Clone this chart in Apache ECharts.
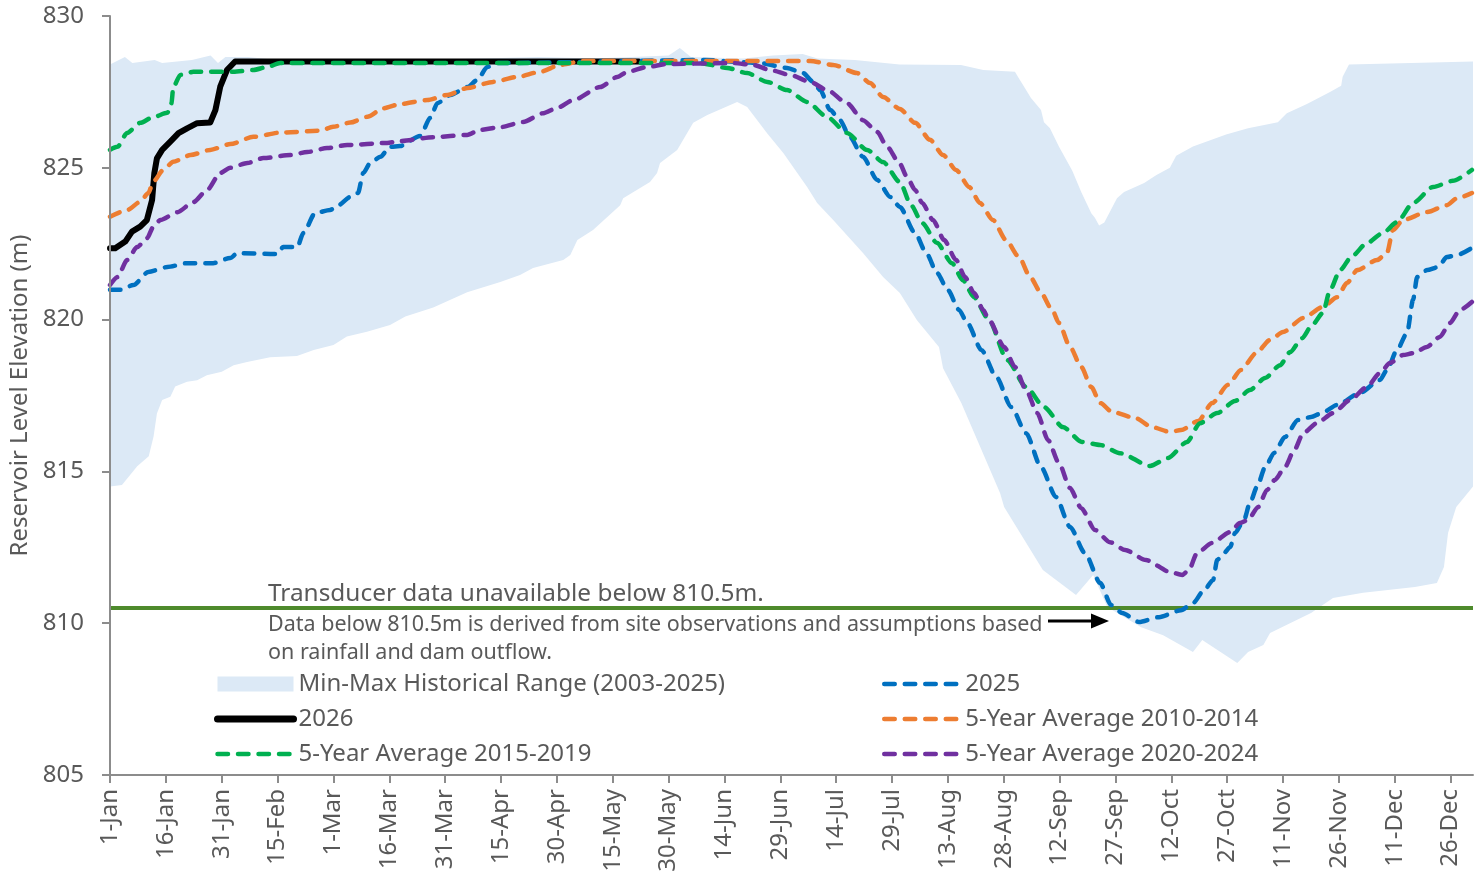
<!DOCTYPE html>
<html>
<head>
<meta charset="utf-8">
<title>Reservoir Level Elevation</title>
<script src="https://cdn.jsdelivr.net/npm/echarts@6/dist/echarts.min.js"></script>
<style>
  html, body { margin: 0; padding: 0; background: #fff; }
  #main { width: 1481px; height: 875px; }
</style>
</head>
<body>
<div id="main"></div>
<script>
// day of year (0 = 1-Jan) , level (m)
var tickDays = [0, 15, 30, 45, 60, 75, 90, 105, 120, 135, 150, 165, 180, 195, 210, 225, 240, 255, 270, 285, 300, 315, 330, 345, 360];
var tickLabels = ['1-Jan', '16-Jan', '31-Jan', '15-Feb', '1-Mar', '16-Mar', '31-Mar', '15-Apr', '30-Apr', '15-May', '30-May', '14-Jun', '29-Jun',
  '14-Jul', '29-Jul', '13-Aug', '28-Aug', '12-Sep', '27-Sep', '12-Oct', '27-Oct', '11-Nov', '26-Nov', '11-Dec', '26-Dec'];

var transducerLimit = 810.5;

var bandMax = [[0, 828.4], [4, 828.65], [6, 828.45], [12, 828.55], [14, 828.45], [22, 828.55], [27, 828.7], [29, 828.45], [31, 828.65],
  [37, 828.65], [45, 828.55], [60, 828.5], [80, 828.55], [100, 828.6], [115, 828.65], [130, 828.6], [140, 828.65], [150, 828.7],
  [153, 828.95], [156, 828.65], [170, 828.6], [178, 828.7], [186, 828.75], [190, 828.6], [200, 828.55], [212, 828.4], [228.5, 828.39],
  [234.5, 828.22], [243, 828.16], [244, 827.96], [245.5, 827.66], [247.3, 827.3], [250, 826.9], [250.8, 826.5], [252.4, 826.3],
  [254.8, 825.7], [258.4, 824.9], [260.8, 824.2], [263.5, 823.5], [264.5, 823.35], [265.6, 823.1], [267, 823.2], [270.4, 824.0],
  [272.3, 824.2], [277.7, 824.5], [281, 824.76], [284.6, 825.0], [286.3, 825.4], [290.8, 825.7], [299.7, 826.1], [305.6, 826.3],
  [313.6, 826.5], [316, 826.8], [321.4, 827.1], [327.6, 827.5], [330.6, 827.7], [331, 828.0], [332.7, 828.4], [366, 828.5]];

var bandMin = [[0, 814.5], [3.2, 814.55], [5.5, 814.9], [7.3, 815.17], [10.4, 815.5], [11.7, 816.15], [12.6, 816.91], [14, 817.35],
  [16.2, 817.46], [17.5, 817.8], [20.7, 817.95], [23.4, 818.0], [26, 818.17], [30, 818.28], [33.2, 818.5], [36.8, 818.6], [43, 818.76],
  [50.2, 818.8], [54.7, 819.0], [60, 819.16], [63.6, 819.44], [69, 819.6], [75.2, 819.82], [79.3, 820.1], [86.8, 820.4], [95.9, 820.9],
  [104.8, 821.24], [110.1, 821.47], [113.6, 821.7], [121.7, 821.96], [123.6, 822.13], [125.5, 822.62], [129.7, 822.95], [137, 823.77],
  [137.8, 824.0], [145, 824.53], [146.9, 824.83], [147.7, 825.16], [152.3, 825.59], [156.6, 826.48], [160.4, 826.74], [168.4, 827.17],
  [171.1, 827.0], [176.4, 826.15], [180.8, 825.49], [187.2, 824.37], [189.9, 823.84], [194.2, 823.28], [202.2, 822.19], [207.6, 821.4],
  [212.1, 820.88], [216.7, 819.98], [222.6, 819.1], [223.7, 818.4], [228.6, 817.25], [239, 814.29], [240.1, 813.83], [250.5, 811.75],
  [259.4, 810.93], [264, 811.59], [267.8, 810.53], [276.9, 809.87], [282.8, 809.6], [290.8, 809.05], [293.3, 809.45], [302.7, 808.69],
  [305.6, 809.05], [309.7, 809.28], [311.5, 809.68], [322.5, 810.34], [328.4, 810.83], [336.5, 811.0], [350.4, 811.19], [356.3, 811.32],
  [358.2, 811.85], [359.3, 812.97], [361.5, 813.83], [366, 814.5]];

var level2026 = [[0, 822.35], [1.4, 822.35], [4.1, 822.57], [5.9, 822.9], [8.1, 823.06], [9.9, 823.28], [11.3, 823.94], [11.9, 824.82],
  [12.6, 825.31], [14, 825.59], [16.2, 825.86], [18.4, 826.14], [20.7, 826.3], [23.4, 826.47], [26.9, 826.49], [28.3, 826.9],
  [29.6, 827.67], [31.4, 828.22], [33.6, 828.5], [142, 828.5]];

var level2025 = [[0, 820.98], [2.8, 820.98], [6.3, 821.14], [10.3, 821.57], [15.4, 821.73], [20.7, 821.86], [27.7, 821.86], [32.3, 822.03],
  [34.2, 822.19], [44.9, 822.16], [46.5, 822.39], [50.3, 822.39], [51.9, 822.85], [55.1, 823.51], [59.1, 823.61], [61.3, 823.77],
  [64.5, 824.04], [66.6, 824.17], [68, 824.83], [69.9, 825.16], [72.6, 825.36], [75.2, 825.69], [77.9, 825.72], [83.3, 826.05],
  [86, 826.64], [87.9, 827.13], [91.4, 827.4], [96, 827.66], [98.6, 827.89], [101.3, 828.32], [104, 828.45], [160, 828.55],
  [169.2, 828.48], [174.6, 828.45], [181.8, 828.29], [186.1, 828.12], [188.8, 827.83], [190.7, 827.56], [193.4, 826.9], [196, 826.57],
  [198.7, 826.01], [202.2, 825.36], [206, 824.6], [209.5, 824.04], [212.1, 823.71], [216.2, 822.85], [219.2, 822.19], [222.1, 821.53],
  [225, 820.97], [228, 820.32], [230.2, 819.89], [234, 819.0], [238, 818.11], [242, 817.12], [246, 816.26], [250, 815.14], [254, 814.16],
  [257.8, 813.17], [261.8, 812.31], [265.9, 811.32], [268.8, 810.6], [271.8, 810.34], [276.3, 810.04], [281.7, 810.2], [287.6, 810.43],
  [290.8, 810.66], [293.8, 811.09], [296.2, 811.42], [297.3, 812.08], [299.1, 812.31], [300.8, 812.51], [302.1, 812.97], [304.5, 813.4],
  [306.1, 813.96], [308, 814.49], [310.2, 815.14], [312.6, 815.61], [315.5, 816.13], [319, 816.69], [322.5, 816.79], [325.4, 816.92],
  [329.5, 817.19], [335.6, 817.58], [341, 818.01], [342.9, 818.34], [345.6, 819.0], [348.3, 819.56], [349.9, 820.65], [351, 821.4],
  [353.7, 821.63], [356.6, 821.73], [359, 822.06], [361.7, 822.13], [365.7, 822.36]];

var avg2010_2014 = [[0, 823.39], [4.7, 823.61], [8.1, 823.88], [10.3, 824.17], [11.6, 824.54], [14.3, 824.93], [17, 825.2], [21.6, 825.42],
  [26.9, 825.59], [32.3, 825.78], [38.5, 826.02], [45.7, 826.16], [56.5, 826.22], [59.9, 826.35], [64.5, 826.49], [69.1, 826.68],
  [73.4, 826.96], [77.9, 827.1], [85.2, 827.23], [90.6, 827.4], [96, 827.63], [102.9, 827.83], [109.3, 827.99], [115.5, 828.16],
  [120.9, 828.39], [127.1, 828.52], [188, 828.52], [194.2, 828.39], [200.6, 828.12], [204.1, 827.79], [207.6, 827.33], [212.1, 826.94],
  [216.2, 826.48], [220.2, 825.92], [223.7, 825.42], [227.2, 824.93], [230.7, 824.37], [233.6, 823.84], [237.1, 823.28], [240.6, 822.62],
  [244.1, 822.06], [247.1, 821.4], [250, 820.88], [253, 820.32], [254.8, 819.89], [257.8, 819.1], [260.8, 818.44], [263.5, 817.78],
  [265.9, 817.25], [269.1, 816.96], [275.3, 816.76], [279.8, 816.46], [284.6, 816.3], [287.6, 816.36], [292.2, 816.66], [296, 817.25],
  [300.2, 817.85], [303.7, 818.34], [307.8, 818.9], [311.5, 819.33], [315, 819.59], [320.4, 820.05], [325.7, 820.42], [329.5, 820.74],
  [332.2, 821.21], [334.9, 821.63], [340.2, 821.96], [342.9, 822.19], [344.5, 822.95], [347.2, 823.28], [353.6, 823.54], [359, 823.77],
  [361.7, 824.0], [365.7, 824.17]];

var avg2015_2019 = [[0, 825.59], [2, 825.69], [4.6, 826.15], [8.1, 826.48], [11.6, 826.67], [15.4, 826.81], [16.5, 827.13], [17, 827.66],
  [18.9, 828.06], [22.4, 828.16], [33.1, 828.16], [38.5, 828.22], [42.2, 828.32], [45.7, 828.45], [158.5, 828.45], [165.7, 828.29],
  [171.1, 828.12], [176.5, 827.83], [181.8, 827.56], [187.2, 827.17], [192.6, 826.67], [197.9, 826.15], [203.3, 825.59], [207.6, 825.19],
  [212.1, 824.53], [215.1, 823.77], [218.1, 823.18], [222.1, 822.52], [226.1, 821.86], [229, 821.3], [232, 820.74], [236, 819.99],
  [240.9, 818.67], [246, 817.78], [250.8, 817.12], [255.9, 816.46], [261, 815.97], [265.9, 815.87], [271.2, 815.6], [279.3, 815.18],
  [284.1, 815.44], [289.2, 815.97], [292.7, 816.59], [297.3, 816.92], [302.1, 817.32], [306.1, 817.68], [310.2, 818.08], [314.2, 818.5],
  [316.9, 818.93], [320.1, 819.39], [322.8, 819.82], [325.7, 820.22], [327.6, 820.97], [330.3, 821.63], [333.5, 822.09], [337.5, 822.52],
  [341.8, 822.85], [345.6, 823.21], [349.9, 823.84], [355.3, 824.37], [360.6, 824.57], [365.7, 824.93]];

var avg2020_2024 = [[0, 821.14], [2, 821.4], [4.6, 821.96], [7.3, 822.39], [10, 822.69], [11.6, 823.05], [13.5, 823.28], [18.1, 823.54],
  [22.4, 823.87], [26.1, 824.27], [29.6, 824.83], [32.3, 825.0], [36.9, 825.16], [41.2, 825.32], [48.4, 825.42], [53, 825.52],
  [58.3, 825.65], [63.7, 825.75], [74.4, 825.82], [77.9, 825.88], [86.8, 826.01], [95.9, 826.08], [99.4, 826.25], [104.8, 826.34],
  [110.9, 826.51], [116.4, 826.8], [120, 826.97], [124.4, 827.23], [131.6, 827.66], [136.2, 827.99], [138.9, 828.16], [144.2, 828.32],
  [149.6, 828.42], [167.3, 828.45], [172.7, 828.39], [177.3, 828.22], [182.6, 828.06], [188, 827.83], [192.6, 827.56], [197.9, 827.13],
  [202.2, 826.57], [206, 826.18], [208.7, 825.69], [212.1, 825.13], [214, 824.7], [216.2, 824.27], [218.1, 823.84], [221, 823.28],
  [224, 822.62], [227.2, 821.96], [229.6, 821.4], [232, 820.88], [234.5, 820.32], [236, 819.99], [240.1, 819.1], [243, 818.44],
  [246, 817.68], [249, 816.92], [251.9, 816.03], [254.8, 815.28], [257.8, 814.45], [260.8, 813.79], [264.5, 813.07], [268.5, 812.67],
  [272.6, 812.41], [278.2, 812.08], [284.6, 811.69], [287.9, 811.59], [289.7, 811.75], [291.9, 812.31], [295.9, 812.64], [300.8, 813.0],
  [303.4, 813.3], [305.6, 813.4], [308.3, 813.83], [310.7, 814.39], [312.8, 814.72], [315.5, 815.14], [318, 815.7], [320.4, 816.26],
  [324.1, 816.59], [328.4, 816.92], [333, 817.35], [337.5, 817.78], [341, 818.24], [343.7, 818.57], [347.2, 818.83], [350.1, 818.9],
  [353.6, 819.1], [357.1, 819.43], [359.8, 819.89], [362.5, 820.32], [365.7, 820.58]];

var FONT = '"Noto Sans", "Open Sans", sans-serif';
var TEXT = '#595959';
var AXIS = '#8C8C8C';
var BAND = '#DCE9F6';
var DASH = [10.5, 10];

function dashed(name, data, color) {
  return {
    name: name, type: 'line', data: data, symbol: 'none', smooth: 0.25, smoothMonotone: 'x',
    itemStyle: { color: color },
    lineStyle: { color: color, width: 4.5, type: DASH, cap: 'round' },
    z: 4
  };
}

var legendBase = {
  orient: 'vertical', top: 671, padding: 0, itemWidth: 76, itemHeight: 15, itemGap: 9,
  textStyle: { color: TEXT, fontSize: 24, fontFamily: FONT, lineHeight: 26, padding: [0, 0, 0, 0] },
  // hide the round marker v6 puts in the middle of a line icon
  itemStyle: { opacity: 0 },
  lineStyle: { width: 4.5, cap: 'round' },
  selectedMode: false
};

var chart = echarts.init(document.getElementById('main'));

var option = {
  animation: false,
  backgroundColor: '#ffffff',
  textStyle: { fontFamily: FONT },
  grid: { left: 110, right: 8, top: 16, bottom: 100, containLabel: false, outerBoundsMode: 'none' },
  xAxis: {
    type: 'value', min: 0, max: 366, interval: 15, z: 10,
    axisLine: { show: true, lineStyle: { color: AXIS, width: 2 } },
    axisTick: { show: true, length: 8, lineStyle: { color: AXIS, width: 2 }, customValues: tickDays },
    axisLabel: {
      customValues: tickDays, rotate: 90, margin: 14, color: TEXT, fontSize: 24, fontFamily: FONT,
      formatter: function (v) { var i = tickDays.indexOf(v); return i >= 0 ? tickLabels[i] : ''; }
    },
    splitLine: { show: false }
  },
  yAxis: {
    type: 'value', min: 805, max: 830, interval: 5, z: 10,
    name: 'Reservoir Level Elevation (m)', nameLocation: 'middle', nameGap: 78,
    nameTextStyle: { color: TEXT, fontSize: 24, fontFamily: FONT },
    axisLine: { show: true, lineStyle: { color: AXIS, width: 2 } },
    axisTick: { show: true, length: 8, lineStyle: { color: AXIS, width: 2 } },
    axisLabel: { color: TEXT, fontSize: 24, fontFamily: FONT, margin: 26 },
    splitLine: { show: false }
  },
  legend: [
    Object.assign({}, legendBase, {
      left: 214,
      data: [
        { name: 'Min-Max Historical Range (2003-2025)', icon: 'rect', itemStyle: { color: BAND, borderWidth: 0, opacity: 1 } },
        { name: '2026', lineStyle: { width: 7, cap: 'round' } },
        { name: '5-Year Average 2015-2019' }
      ]
    }),
    Object.assign({}, legendBase, {
      left: 882,
      data: ['2025', '5-Year Average 2010-2014', '5-Year Average 2020-2024']
    })
  ],
  series: [
    {
      name: 'Min-Max Historical Range (2003-2025)', type: 'line', data: bandMax, symbol: 'none',
      itemStyle: { color: BAND }, lineStyle: { width: 0 },
      areaStyle: { color: BAND, opacity: 1, origin: 'start' }, z: 1, silent: true
    },
    {
      name: 'bandMinMask', type: 'line', data: bandMin, symbol: 'none',
      itemStyle: { color: '#ffffff' }, lineStyle: { width: 0 },
      areaStyle: { color: '#ffffff', opacity: 1, origin: 'start' }, z: 1, silent: true
    },
    {
      name: 'Transducer limit', type: 'line', data: [[0, transducerLimit], [366, transducerLimit]], symbol: 'none',
      lineStyle: { color: '#4E8A2C', width: 4 }, itemStyle: { color: '#4E8A2C' }, z: 2, silent: true
    },
    {
      name: '2026', type: 'line', data: level2026, symbol: 'none',
      itemStyle: { color: '#000000' }, lineStyle: { color: '#000000', width: 6, cap: 'round', join: 'round' }, z: 3
    },
    dashed('2025', level2025, '#0070C0'),
    dashed('5-Year Average 2010-2014', avg2010_2014, '#ED7D31'),
    dashed('5-Year Average 2015-2019', avg2015_2019, '#00B050'),
    dashed('5-Year Average 2020-2024', avg2020_2024, '#7030A0')
  ],
  graphic: [
    { type: 'text', z: 100, x: 268, y: 594, style: { text: 'Transducer data unavailable below 810.5m.', fill: TEXT, font: '24.4px ' + FONT, verticalAlign: 'middle' } },
    { type: 'text', z: 100, x: 268, y: 624.5, style: { text: 'Data below 810.5m is derived from site observations and assumptions based', fill: TEXT, font: '21.5px ' + FONT, verticalAlign: 'middle' } },
    { type: 'text', z: 100, x: 268, y: 652.5, style: { text: 'on rainfall and dam outflow.', fill: TEXT, font: '21.5px ' + FONT, verticalAlign: 'middle' } },
    { type: 'line', z: 100, shape: { x1: 1048, y1: 621, x2: 1094, y2: 621 }, style: { stroke: '#000000', lineWidth: 3 } },
    { type: 'polygon', z: 100, shape: { points: [[1091, 613.5], [1109, 621], [1091, 628.5]] }, style: { fill: '#000000' } }
  ]
};

chart.setOption(option);
</script>
</body>
</html>
